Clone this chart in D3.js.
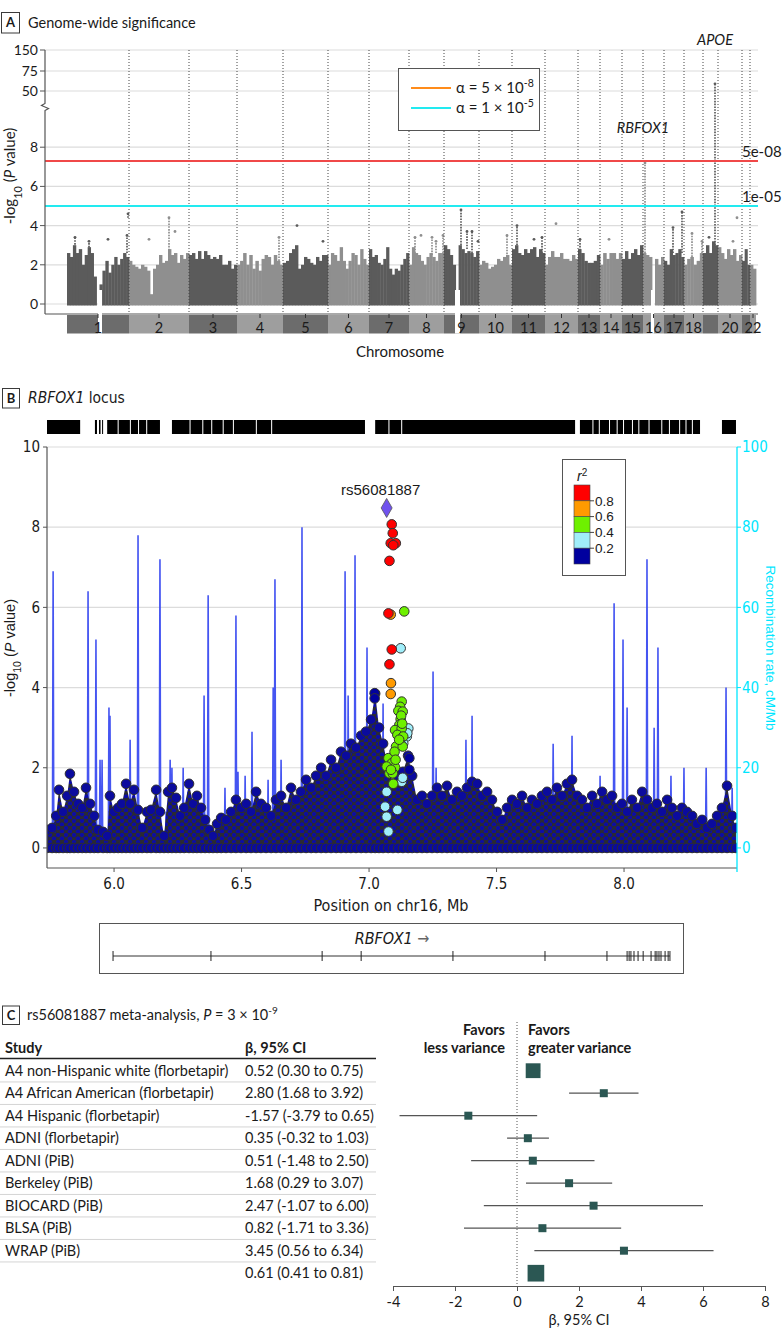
<!DOCTYPE html>
<html><head><meta charset="utf-8">
<script src="https://cdn.jsdelivr.net/npm/d3@7/dist/d3.min.js"></script>
<style>
html,body{margin:0;padding:0;background:#fff;}
svg{display:block;}
text{font-family:Lato,"Liberation Sans",sans-serif;fill:#1a1a1a;}
.narrow{font-family:"Liberation Sans Narrow","Arial Narrow","DejaVu Sans Condensed",sans-serif;}
.reg{font-family:"Liberation Sans",Arial,sans-serif;}
</style></head><body>
<svg id="chart" width="783" height="1340"></svg>
<script>
// ================= DATA =================
// Panel A : Manhattan plot
const chromLabels = ["1","2","3","4","5","6","7","8","9","10","11","12","13","14","15","16","17","18","19","20","21","22"];
const chromTickLabels = ["1","2","3","4","5","6","7","8","9","10","11","12","13","14","15","16","17","18","","20","","22"];
const chromSpanMb = [248,240,192,184,180,164,160,140,140,132,132,132,88,88,84,84,80,76,60,96,32,24];
const chromGapMb = [[0,124,140],[8,44,64],[15,32,44]]; // [chrom index, from, to] (no SNPs)
// bulk height (max -log10 P) in consecutive bins along each chromosome
const manhattanBins = [
 [2.6,2.4,3.0,2.6,2.8,2.0,2.5,2.9,2.6,1.4,null,1.0,1.7,2.2,1.6,2.0,2.4,2.0,2.3,2.6,2.4],
 [2.2,2.0,1.9,1.8,2.0,1.9,1.7,0.5,1.8,2.0,2.5,2.1,2.2,2.8,2.5,2.6,2.1,2.5,2.3,2.6],
 [2.5,2.6,2.3,2.7,2.3,2.7,2.5,2.3,2.4,2.3,2.5,2.0,2.0,2.2,1.8,2.0],
 [2.0,2.2,2.6,2.0,2.5,1.8,2.2,1.7,2.3,2.5,2.4,2.0,2.5,2.2,2.0],
 [2.1,2.2,2.6,2.8,3.0,1.8,2.0,2.4,2.3,2.1,2.0,2.4,2.2,2.5,2.5],
 [2.0,2.6,2.5,2.2,2.9,2.2,1.8,2.2,2.6,2.5,2.0,2.8,2.3,2.0],
 [2.8,2.4,2.5,2.1,2.0,2.3,2.9,1.8,1.5,1.8,1.7,2.0,2.3,2.6],
 [2.0,2.9,2.6,2.5,2.2,2.0,2.4,2.6,2.4,2.2,2.6,2.6],
 [3.0,2.8,2.5,2.0,null,3.0,2.8,2.6,2.7,2.6,2.4,2.7],
 [2.0,2.2,2.1,1.8,1.9,2.0,2.3,2.2,2.4,2.5,2.0],
 [2.8,3.0,2.6,2.5,2.8,2.6,2.8,2.9,2.4,2.8,2.6],
 [2.0,2.4,2.7,2.4,2.4,2.6,2.3,2.3,2.2,2.5,2.3],
 [2.8,2.6,2.2,2.1,2.1,2.2,2.5],
 [2.0,2.6,2.3,2.6,2.6,2.3,2.6],
 [2.3,2.7,2.3,2.6,2.8,2.5,3.0],
 [2.6,2.5,2.4,null,2.3,2.0,2.4],
 [2.2,2.0,2.8,2.5,2.6,2.8,2.4],
 [2.0,2.3,2.4,2.0,2.2,2.6],
 [2.6,3.0,2.6,3.2,3.0],
 [2.9,2.6,2.3,2.8,2.5,2.8,2.2,2.5],
 [2.2,2.8,2.0],
 [2.0,1.8]
];
// columns of SNPs rising above the bulk: chromosome index, offset (Mb), top and base -log10 P
const peakChrom  = [0,0,0,0,0,1,1,1,3,4,4,7,7,7,7,7,8,8,8,8,9,10,10,10,11,12,13,15,16,16,17,17,18,18,19,19];
const peakOffset = [32,88,164,240,244,80,160,184,168,56,160,24,48,92,108,136,68,92,112,136,112,20,88,120,44,8,36,8,36,72,32,72,24,48,60,76];
const peakTop    = [3.4,3.2,3.3,3.5,4.6,3.3,4.4,3.7,3.4,4.0,3.2,3.4,3.5,3.4,3.2,3.5,4.8,3.7,3.7,3.2,3.5,4.0,3.3,3.4,4.1,3.3,3.3,7.2,3.9,4.7,3.6,3.2,3.4,59,3.2,4.4];
const peakBase   = [2.6,2.6,3.3,2.6,4.4,3.3,2.6,3.7,2.2,4.0,3.2,2.6,3.5,2.5,2.6,2.6,3.0,2.8,2.6,3.2,2.4,3.0,3.3,2.6,4.1,2.6,3.3,2.6,2.6,2.6,2.4,2.6,3.4,3.0,3.2,4.4];
const yTicksA = [0,2,4,6,8,50,75,150];
const thresholdLogP = [7.3, 5];
const thresholdText = ["5e-08","1e-05"];

// Panel B : RBFOX1 locus
const locusXTicks = [6.0,6.5,7.0,7.5,8.0];
const locusYTicks = [0,2,4,6,8,10];
const recombTicks = [0,20,40,60,80,100];
const geneTrackBlocks = [[5.737,5.867],[5.925,5.933],[5.941,5.947],[5.953,5.957],[5.973,6.014],[6.018,6.062],[6.066,6.094],[6.098,6.126],[6.130,6.180],[6.227,6.296],[6.300,6.346],[6.350,6.381],[6.385,6.426],[6.430,6.466],[6.470,6.556],[6.560,6.616],[6.620,6.984],[7.024,7.076],[7.080,7.126],[7.130,7.808],[7.827,7.876],[7.880,7.901],[7.905,7.941],[7.945,7.971],[7.975,7.996],[8.000,8.031],[8.035,8.056],[8.060,8.096],[8.100,8.146],[8.150,8.176],[8.180,8.216],[8.220,8.241],[8.245,8.266],[8.270,8.298],[8.384,8.439]];
const recombPos  = [5.761,5.800,5.898,5.929,5.945,5.953,5.980,5.984,6.063,6.094,6.180,6.204,6.220,6.227,6.271,6.290,6.353,6.369,6.435,6.478,6.486,6.514,6.541,6.604,6.624,6.631,6.655,6.737,6.906,6.918,6.945,6.992,7.055,7.251,7.263,7.380,7.404,7.545,7.722,7.796,7.906,7.961,7.996,8.012,8.090,8.118,8.133,8.184,8.235,8.322,8.400,8.424];
const recombRate = [69,8,64,52,22,22,35,33,27,78,72,9,22,20,20,14,38,63,15,58,19,18,29,17,40,67,22,80,69,38,73,50,36,44,20,27,33,12,26,28,18,61,52,35,72,30,50,18,20,20,40,15];
// upper envelope of the dense cloud of SNPs (position Mb, -log10 P)
const snpCloud = [[5.737,0.45],[5.757,0.5],[5.773,0.8],[5.784,1.45],[5.800,0.9],[5.816,1.3],[5.827,1.85],[5.843,1.4],[5.859,1.1],[5.875,1.0],[5.890,1.5],[5.906,1.1],[5.922,0.8],[5.937,0.45],[5.957,0.4],[5.973,0.3],[5.984,1.3],[6.000,0.9],[6.016,1.0],[6.031,1.1],[6.047,1.6],[6.063,1.1],[6.078,1.45],[6.094,0.95],[6.110,0.5],[6.129,0.9],[6.145,0.95],[6.165,1.45],[6.180,0.9],[6.196,0.3],[6.212,1.4],[6.227,1.5],[6.243,1.25],[6.259,0.8],[6.275,1.0],[6.294,1.6],[6.310,1.1],[6.325,1.3],[6.341,1.0],[6.357,0.7],[6.373,0.45],[6.388,0.3],[6.404,0.6],[6.420,0.75],[6.439,0.7],[6.459,0.9],[6.478,1.2],[6.498,1.0],[6.518,1.1],[6.537,0.9],[6.557,1.4],[6.576,1.1],[6.596,1.0],[6.616,0.8],[6.635,1.2],[6.655,1.3],[6.675,1.0],[6.694,1.5],[6.714,1.2],[6.733,1.4],[6.753,1.7],[6.773,1.5],[6.792,1.8],[6.812,2.0],[6.831,1.8],[6.851,2.2],[6.871,2.0],[6.890,2.4],[6.910,2.3],[6.929,2.6],[6.949,2.5],[6.969,2.8],[6.988,2.9],[7.008,3.2],[7.024,3.85],[7.039,3.0],[7.055,2.6],[7.075,2.0],[7.094,1.6],[7.114,1.8],[7.133,1.9],[7.153,2.3],[7.169,1.8],[7.188,1.2],[7.208,1.3],[7.227,1.1],[7.247,1.3],[7.267,1.5],[7.286,1.3],[7.306,1.55],[7.325,1.2],[7.345,1.4],[7.365,1.3],[7.384,1.5],[7.404,1.65],[7.424,1.6],[7.443,1.3],[7.463,1.4],[7.482,1.2],[7.502,0.9],[7.522,0.7],[7.541,1.0],[7.561,1.2],[7.580,1.1],[7.600,1.3],[7.620,1.0],[7.639,1.2],[7.659,1.1],[7.678,1.3],[7.698,1.4],[7.718,1.2],[7.737,1.5],[7.757,1.3],[7.776,1.6],[7.796,1.7],[7.816,1.3],[7.835,1.2],[7.855,1.0],[7.875,1.3],[7.894,1.1],[7.914,1.4],[7.933,1.2],[7.953,1.3],[7.973,1.0],[7.992,1.1],[8.012,0.9],[8.031,1.2],[8.051,1.0],[8.071,1.4],[8.090,1.2],[8.110,1.0],[8.129,1.1],[8.149,0.9],[8.169,1.2],[8.188,1.0],[8.208,0.8],[8.227,1.0],[8.247,0.9],[8.267,0.8],[8.286,0.6],[8.306,0.7],[8.325,0.5],[8.345,0.6],[8.365,0.8],[8.384,1.0],[8.404,1.55],[8.424,0.8],[8.439,0.5]];
// SNPs in LD with the lead variant: position (Mb), -log10 P, r^2
const ldPos = [7.022,7.022,7.158,7.158, 7.124,7.148,7.154,7.150,7.134,7.128,7.132,7.069,7.063,7.069,7.111,7.076, 7.138,7.128,7.122,7.115,7.132,7.124,7.119,7.102,7.128,7.111,7.134,7.122,7.106,7.132,7.095,7.076,7.089,7.069,7.102,7.080,7.093,7.095,7.126,7.118,7.130,7.100,7.086,7.104, 7.085,7.086,7.085, 7.089,7.093,7.085,7.105,7.095,7.080,7.076,7.089,7.080];
const ldLogP = [3.86,3.73,2.24,1.95, 4.98,2.78,2.98,2.86,2.61,1.65,1.75,1.40,1.03,0.78,0.95,0.41, 5.9,3.65,3.52,3.42,3.40,3.21,3.07,2.94,2.98,2.82,2.78,2.61,2.53,2.53,2.28,2.24,2.11,2.03,2.01,1.86,1.86,1.60,3.30,2.70,3.10,2.40,1.95,2.20, 5.82,4.11,3.84, 8.07,7.85,7.6,7.6,7.55,7.16,5.85,4.95,4.58];
const ldR2 = [0.1,0.1,0.1,0.1, 0.3,0.3,0.3,0.3,0.3,0.3,0.3,0.3,0.3,0.3,0.3,0.3, 0.5,0.5,0.5,0.5,0.5,0.5,0.5,0.5,0.5,0.5,0.5,0.5,0.5,0.5,0.5,0.5,0.5,0.5,0.5,0.5,0.5,0.5,0.5,0.5,0.5,0.5,0.5,0.5, 0.7,0.7,0.7, 0.9,0.9,0.9,0.9,0.9,0.9,0.9,0.9,0.9];
const leadSnp = {id:"rs56081887", pos:7.069, logP:8.48};
const r2Breaks = [0.2,0.4,0.6,0.8];
const r2Colors = ["#00009e","#a0eefa","#6ef000","#ff9a00","#ff0000"];
const geneName = "RBFOX1";
const geneExons = [5.996,6.380,6.816,6.969,7.329,7.690,7.933,8.012,8.020,8.027,8.039,8.055,8.075,8.106,8.122,8.129,8.137,8.145,8.161,8.173,8.180];

// Panel C : forest plot
const studies = ["A4 non-Hispanic white (florbetapir)","A4 African American (florbetapir)","A4 Hispanic (florbetapir)","ADNI (florbetapir)","ADNI (PiB)","Berkeley (PiB)","BIOCARD (PiB)","BLSA (PiB)","WRAP (PiB)",""];
const betas = [0.52,2.80,-1.57,0.35,0.51,1.68,2.47,0.82,3.45,0.61];
const ciLow = [0.30,1.68,-3.79,-0.32,-1.48,0.29,-1.07,-1.71,0.56,0.41];
const ciHigh = [0.75,3.92,0.65,1.03,2.50,3.07,6.00,3.36,6.34,0.81];
const forestTicks = [-4,-2,0,2,4,6,8];

// ================= DRAW =================
const svg = d3.select("#chart");
function panelLabel(g, letter, x, y, w, h){
  g.append("rect").attr("x",x).attr("y",y).attr("width",w).attr("height",h)
   .attr("fill","#fff").attr("stroke","#3a3a3a").attr("stroke-width",1);
  g.append("text").attr("x",x+w/2).attr("y",y+h/2).attr("dy","0.36em")
   .attr("text-anchor","middle").attr("font-weight","bold").attr("font-size",13).text(letter);
}

// ---------- Panel A ----------
const A = svg.append("g");
panelLabel(A,"A",1.5,12.5,18,20.5);
A.append("text").attr("x",28).attr("y",23).attr("dy","0.35em").attr("font-size",14.5).text("Genome-wide significance");

const chromStart = Array.from(d3.cumsum([0, ...chromSpanMb]));
const xA = d3.scaleLinear().domain([0, d3.sum(chromSpanMb)]).range([67,756]);
const yA = d3.scaleLinear().domain([0,10,50,75,150]).range([304,108,91,71,50]);
const darkPt = "#5b5b5b", lightPt = "#8f8f8f";

A.selectAll("line.grid").data(yTicksA).join("line")
  .attr("x1",45).attr("x2",758).attr("y1",d=>yA(d)).attr("y2",d=>yA(d))
  .attr("stroke","#dcdcdc").attr("stroke-width",1.2);

// bins
chromSpanMb.forEach((span,c)=>{
  const bins = manhattanBins[c], n = bins.length, w = span/n, s = chromStart[c];
  bins.forEach((v,i)=>{
    if(v==null) return;
    const x0 = xA(s+i*w), x1 = xA(s+(i+1)*w);
    A.append("rect").attr("x",x0).attr("width",x1-x0+0.4)
      .attr("y",yA(v)).attr("height",yA(0)+1.5-yA(v))
      .attr("fill", c%2===0?darkPt:lightPt);
  });
});
// peak columns
peakChrom.forEach((c,i)=>{
  const x = xA(chromStart[c]+peakOffset[i]);
  const col = c%2===0?darkPt:lightPt;
  if(peakTop[i]>peakBase[i]){
    A.append("line").attr("x1",x).attr("x2",x).attr("y1",yA(peakBase[i])).attr("y2",yA(peakTop[i]))
      .attr("stroke",col).attr("stroke-width",1.7).attr("stroke-dasharray","1.6 1.2");
  }
  A.append("circle").attr("cx",x).attr("cy",yA(peakTop[i])).attr("r",1.4).attr("fill",col);
});

// chromosome boundaries
A.selectAll("line.bnd").data(chromStart.slice(1,22)).join("line")
  .attr("x1",d=>xA(d)).attr("x2",d=>xA(d)).attr("y1",50).attr("y2",314)
  .attr("stroke","#444").attr("stroke-width",1).attr("stroke-dasharray","1 2");

// thresholds
const thrColor = ["#f04848","#22eaf0"];
thresholdLogP.forEach((t,i)=>{
  A.append("line").attr("x1",45).attr("x2",758).attr("y1",yA(t)).attr("y2",yA(t))
    .attr("stroke",thrColor[i]).attr("stroke-width",2);
  A.append("text").attr("x",742).attr("y",yA(t)-9).attr("dy","0.35em").attr("font-size",15).text(thresholdText[i]);
});

// y axis with break
A.append("path").attr("d","M45,50V103.5L41.5,105.5L48.5,108.5L45,110.5V314")
  .attr("fill","none").attr("stroke","#555").attr("stroke-width",1.2);
yTicksA.forEach(t=>{
  A.append("line").attr("x1",40).attr("x2",45).attr("y1",yA(t)).attr("y2",yA(t)).attr("stroke","#555");
  A.append("text").attr("x",38).attr("y",yA(t)).attr("dy","0.35em").attr("text-anchor","end").attr("font-size",14).text(t);
});
const ylA = A.append("text").attr("transform","translate(15,176) rotate(-90)").attr("text-anchor","middle").attr("font-size",15);
ylA.append("tspan").text("-log");
ylA.append("tspan").attr("baseline-shift","sub").attr("font-size",11).text("10");
ylA.append("tspan").text(" (");
ylA.append("tspan").attr("font-style","italic").text("P");
ylA.append("tspan").text(" value)");

// x axis & chromosome bar
A.append("line").attr("x1",45).attr("x2",758).attr("y1",314).attr("y2",314).attr("stroke","#555").attr("stroke-width",1.2);
chromSpanMb.forEach((span,c)=>{
  A.append("rect").attr("x",xA(chromStart[c])).attr("width",xA(chromStart[c]+span)-xA(chromStart[c]))
    .attr("y",315).attr("height",18.5).attr("fill", c%2===0?"#6c6c6c":"#9e9e9e");
});
chromGapMb.forEach(g=>{
  A.append("rect").attr("x",xA(chromStart[g[0]]+g[1])).attr("width",xA(chromStart[g[0]]+g[2])-xA(chromStart[g[0]]+g[1]))
   .attr("y",290).attr("height",43.5).attr("fill","#fff");
});
chromTickLabels.forEach((lab,c)=>{
  if(!lab) return;
  const xm = xA(chromStart[c]+chromSpanMb[c]/2);
  A.append("line").attr("x1",xm).attr("x2",xm).attr("y1",314).attr("y2",318).attr("stroke","#333");
  A.append("text").attr("x",xm).attr("y",327.5).attr("dy","0.35em").attr("text-anchor","middle").attr("font-size",14.5).attr("fill","#222").text(lab);
});
A.append("text").attr("x",400).attr("y",352).attr("dy","0.35em").attr("text-anchor","middle").attr("font-size",15).text("Chromosome");

// legend
A.append("rect").attr("x",398.5).attr("y",68.5).attr("width",141).attr("height",62).attr("fill","#fff").attr("stroke","#555");
const legCol = ["#ff8c1a","#22eaf0"], legExp = ["-8","-5"], legMant = ["5","1"];
[0,1].forEach(i=>{
  const y = 88+i*20;
  A.append("line").attr("x1",411).attr("x2",451).attr("y1",y).attr("y2",y).attr("stroke",legCol[i]).attr("stroke-width",2);
  const t = A.append("text").attr("x",456).attr("y",y).attr("dy","0.35em").attr("font-size",15);
  t.append("tspan").text("α = "+legMant[i]+" × 10");
  t.append("tspan").attr("baseline-shift","super").attr("font-size",10.5).text(legExp[i]);
});
// gene labels
A.append("text").attr("x",xA(chromStart[18]+48)).attr("y",40).attr("dy","0.35em").attr("text-anchor","middle").attr("font-style","italic").attr("font-size",14.5).text("APOE");
A.append("text").attr("x",643).attr("y",128).attr("dy","0.35em").attr("text-anchor","middle").attr("font-style","italic").attr("font-size",14.5).text("RBFOX1");

// ---------- Panel B ----------
const B = svg.append("g");
panelLabel(B,"B",2.5,388.5,17,19.5);
const tb = B.append("text").attr("class","narrow").attr("x",28).attr("y",398).attr("dy","0.35em").attr("font-size",15.5);
tb.append("tspan").attr("font-style","italic").text("RBFOX1");
tb.append("tspan").text(" locus");

const xB = d3.scaleLinear().domain([5.737,8.443]).range([47,737]);
const yB = d3.scaleLinear().domain([-0.5,10]).range([868,447]);
const yR = d3.scaleLinear().domain([-5,100]).range([868,447]);

// gene density track
B.selectAll("rect.gt").data(geneTrackBlocks).join("rect")
  .attr("x",d=>xB(d[0])).attr("width",d=>Math.max(1,xB(d[1])-xB(d[0])))
  .attr("y",420).attr("height",14).attr("fill","#000");

// gridlines
locusYTicks.forEach(t=>{
  B.append("line").attr("x1",47).attr("x2",737).attr("y1",yB(t)).attr("y2",yB(t)).attr("stroke","#dcdcdc").attr("stroke-width",1.2);
});

const defs = svg.append("defs");
defs.append("clipPath").attr("id","clipB").append("rect").attr("x",47).attr("y",440).attr("width",690).attr("height",428);
const pat = defs.append("pattern").attr("id","snpTex").attr("width",8).attr("height",7).attr("patternUnits","userSpaceOnUse");
pat.append("rect").attr("width",8).attr("height",7).attr("fill","#2a2a33");
pat.append("circle").attr("cx",2).attr("cy",2).attr("r",2.6).attr("fill","#0c0ca6").attr("stroke","#2b2b2b").attr("stroke-width",0.8);
pat.append("circle").attr("cx",6).attr("cy",5.5).attr("r",2.6).attr("fill","#0c0ca6").attr("stroke","#2b2b2b").attr("stroke-width",0.8);

const plotB = B.append("g").attr("clip-path","url(#clipB)");
// recombination rate
let rp = `M${xB(5.737)},${yR(0)}`;
recombPos.forEach((p,i)=>{
  const x = xB(p);
  rp += `L${x-0.7},${yR(0)}L${x},${yR(recombRate[i])}L${x+0.7},${yR(0)}`;
});
rp += `L${xB(8.443)},${yR(0)}`;
plotB.append("path").attr("d",rp).attr("fill","none").attr("stroke","#3b4cf0").attr("stroke-width",1.6).attr("stroke-opacity",0.95);

// dense SNP cloud
const area = d3.area().x(d=>xB(d[0])).y0(yB(0)+4.5).y1(d=>yB(d[1]));
plotB.append("path").datum(snpCloud).attr("d",area).attr("fill","url(#snpTex)");
plotB.selectAll("circle.cloud").data(snpCloud).join("circle")
  .attr("cx",d=>xB(d[0])).attr("cy",d=>yB(d[1])).attr("r",4.8)
  .attr("fill","#0b0b9e").attr("stroke","#2e2e2e").attr("stroke-width",1);
plotB.selectAll("circle.base").data(snpCloud).join("circle")
  .attr("cx",d=>xB(d[0])).attr("cy",yB(0)).attr("r",4.8)
  .attr("fill","#0b0b9e").attr("stroke","#2e2e2e").attr("stroke-width",1);

// LD points (sorted so higher r2 on top)
const r2Color = d3.scaleThreshold().domain(r2Breaks).range(r2Colors);
const ldIdx = d3.range(ldPos.length).sort((a,b)=>ldR2[a]-ldR2[b]);
plotB.selectAll("circle.ld").data(ldIdx).join("circle")
  .attr("cx",i=>xB(ldPos[i])).attr("cy",i=>yB(ldLogP[i])).attr("r",4.8)
  .attr("fill",i=>r2Color(ldR2[i])).attr("stroke","#333").attr("stroke-width",1);
plotB.append("path").attr("d",d3.symbol(d3.symbolDiamond,105)())
  .attr("transform",`translate(${xB(leadSnp.pos)},${yB(leadSnp.logP)})`)
  .attr("fill","#7052ee").attr("stroke","#555").attr("stroke-width",0.8);
B.append("text").attr("class","reg").attr("x",xB(leadSnp.pos)-6).attr("y",490).attr("dy","0.35em").attr("text-anchor","middle").attr("font-size",15).text(leadSnp.id);

// axes
B.append("line").attr("x1",47).attr("x2",47).attr("y1",447).attr("y2",868).attr("stroke","#555").attr("stroke-width",1.2);
B.append("line").attr("x1",47).attr("x2",737).attr("y1",868).attr("y2",868).attr("stroke","#555").attr("stroke-width",1.2);
B.append("line").attr("x1",737).attr("x2",737).attr("y1",447).attr("y2",872).attr("stroke","#00e6ff").attr("stroke-width",1.3);
locusYTicks.forEach(t=>{
  B.append("line").attr("x1",43).attr("x2",47).attr("y1",yB(t)).attr("y2",yB(t)).attr("stroke","#555");
  B.append("text").attr("class","narrow").attr("x",40).attr("y",yB(t)).attr("dy","0.35em").attr("text-anchor","end").attr("font-size",15).text(t);
});
recombTicks.forEach(t=>{
  B.append("line").attr("x1",737).attr("x2",741).attr("y1",yR(t)).attr("y2",yR(t)).attr("stroke","#00e6ff");
  B.append("text").attr("class","narrow").attr("x",742).attr("y",yR(t)).attr("dy","0.35em").attr("font-size",15).style("fill","#00e6ff").text(t);
});
locusXTicks.forEach(t=>{
  B.append("line").attr("x1",xB(t)).attr("x2",xB(t)).attr("y1",868).attr("y2",872).attr("stroke","#555");
  B.append("text").attr("class","narrow").attr("x",xB(t)).attr("y",884).attr("dy","0.35em").attr("text-anchor","middle").attr("font-size",15).text(d3.format(".1f")(t));
});
B.append("text").attr("class","narrow").attr("x",391).attr("y",905).attr("dy","0.35em").attr("text-anchor","middle").attr("font-size",16).text("Position on chr16, Mb");
const ylB = B.append("text").attr("class","reg").attr("transform","translate(15,648) rotate(-90)").attr("text-anchor","middle").attr("font-size",14.5);
ylB.append("tspan").text("-log");
ylB.append("tspan").attr("baseline-shift","sub").attr("font-size",10.5).text("10");
ylB.append("tspan").text(" (");
ylB.append("tspan").attr("font-style","italic").text("P");
ylB.append("tspan").text(" value)");
B.append("text").attr("class","reg").attr("transform","translate(766,648) rotate(90)").attr("text-anchor","middle").attr("font-size",13.5).style("fill","#00e6ff").text("Recombination rate, cM/Mb");

// r2 legend
B.append("rect").attr("x",562.5).attr("y",459.5).attr("width",63).attr("height",116).attr("fill","#fff").attr("stroke","#555");
const r2t = B.append("text").attr("class","reg").attr("x",577).attr("y",476).attr("dy","0.35em").attr("font-size",14).attr("font-style","italic");
r2t.append("tspan").text("r");
r2t.append("tspan").attr("baseline-shift","super").attr("font-size",10).attr("font-style","normal").text("2");
const legR2 = r2Colors.slice().reverse();
legR2.forEach((c,i)=>{
  B.append("rect").attr("x",574).attr("y",485+i*15.8).attr("width",16).attr("height",15.8).attr("fill",c).attr("stroke","#444").attr("stroke-width",0.6);
});
r2Breaks.slice().reverse().forEach((b,i)=>{
  const y = 485+(i+1)*15.8;
  B.append("line").attr("x1",590).attr("x2",594).attr("y1",y).attr("y2",y).attr("stroke","#444");
  B.append("text").attr("class","reg").attr("x",595).attr("y",y).attr("dy","0.35em").attr("font-size",13.5).text(b.toFixed(1));
});

// gene model
B.append("rect").attr("x",99.5).attr("y",923.5).attr("width",584).attr("height",50).attr("fill","none").attr("stroke","#555");
B.append("line").attr("x1",xB(d3.min(geneExons))).attr("x2",xB(d3.max(geneExons))).attr("y1",956).attr("y2",956).attr("stroke","#333");
B.selectAll("line.ex").data(geneExons).join("line")
  .attr("x1",d=>xB(d)).attr("x2",d=>xB(d)).attr("y1",951).attr("y2",961).attr("stroke","#222").attr("stroke-width",1);
const gt = B.append("text").attr("class","narrow").attr("x",392).attr("y",938).attr("dy","0.35em").attr("text-anchor","middle").attr("font-size",16);
gt.append("tspan").attr("font-style","italic").text(geneName);
gt.append("tspan").style("fill","#666").text(" \u2192");

// ---------- Panel C ----------
const C = svg.append("g");
panelLabel(C,"C",2.5,1006,17,18.5);
const ct = C.append("text").attr("x",27).attr("y",1015).attr("dy","0.35em").attr("font-size",14.5);
ct.append("tspan").text("rs56081887 meta-analysis, ");
ct.append("tspan").attr("font-style","italic").text("P");
ct.append("tspan").text(" = 3 × 10");
ct.append("tspan").attr("baseline-shift","super").attr("font-size",10).text("-9");

C.append("text").attr("x",5).attr("y",1048).attr("dy","0.35em").attr("font-weight","bold").attr("font-size",14.5).text("Study");
C.append("text").attr("x",245).attr("y",1048).attr("dy","0.35em").attr("font-weight","bold").attr("font-size",14.5).text("β, 95% CI");
C.append("line").attr("x1",0).attr("x2",376).attr("y1",1058.5).attr("y2",1058.5).attr("stroke","#222").attr("stroke-width",1.4);

const rowY = i => 1070.7 + i*22.5;
const fmt = v => v.toFixed(2);
studies.forEach((s,i)=>{
  C.append("text").attr("x",5).attr("y",rowY(i)).attr("dy","0.35em").attr("font-size",14.5).text(s);
  C.append("text").attr("x",245).attr("y",rowY(i)).attr("dy","0.35em").attr("font-size",14.5)
    .text(`${fmt(betas[i])} (${fmt(ciLow[i])} to ${fmt(ciHigh[i])})`);
  if(i<studies.length-1)
    C.append("line").attr("x1",0).attr("x2",376).attr("y1",rowY(i)+11.25).attr("y2",rowY(i)+11.25).attr("stroke","#d4d4d4").attr("stroke-width",1);
});

const xF = d3.scaleLinear().domain([-4,8]).range([393,765]);
C.append("line").attr("x1",xF(0)).attr("x2",xF(0)).attr("y1",1022).attr("y2",1286).attr("stroke","#555").attr("stroke-dasharray","1 2");
[["Favors","less variance"],["Favors","greater variance"]].forEach((lines,k)=>{
  lines.forEach((l,j)=>{
    C.append("text").attr("x",k===0?xF(0)-12:xF(0)+11).attr("y",1030+j*17.5).attr("dy","0.35em")
     .attr("text-anchor",k===0?"end":"start").attr("font-weight","bold").attr("font-size",14.5).text(l);
  });
});
const se = betas.map((b,i)=>(ciHigh[i]-ciLow[i])/3.92);
const sizeScale = d3.scaleSqrt().domain([0,100]).range([0,17]);
betas.forEach((b,i)=>{
  C.append("line").attr("x1",xF(ciLow[i])).attr("x2",xF(ciHigh[i])).attr("y1",rowY(i)).attr("y2",rowY(i)).attr("stroke","#555").attr("stroke-width",1.2);
  const sz = Math.max(8, sizeScale(1/(se[i]*se[i])));
  C.append("rect").attr("x",xF(b)-sz/2).attr("y",rowY(i)-sz/2).attr("width",sz).attr("height",sz).attr("fill","#2b5753");
});
const axF = C.append("g").attr("transform","translate(0,1286)")
  .call(d3.axisBottom(xF).tickValues(forestTicks).tickSize(5).tickSizeOuter(0).tickFormat(d=>String(d)));
axF.select(".domain").attr("stroke","#555").attr("stroke-width",1.2);
axF.selectAll(".tick line").attr("stroke","#555");
axF.selectAll(".tick text").attr("font-size",14.5).attr("font-family","Lato,'Liberation Sans',sans-serif").attr("fill","#1a1a1a").attr("dy","0.9em");
C.append("text").attr("x",xF(2)).attr("y",1320).attr("dy","0.35em").attr("text-anchor","middle").attr("font-size",14.5).text("β, 95% CI");
</script></body></html>
